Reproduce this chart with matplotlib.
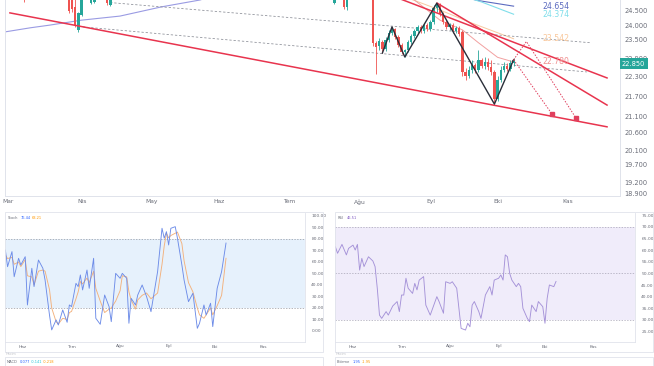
import matplotlib
matplotlib.use('Agg')
import matplotlib.pyplot as plt
import matplotlib.transforms as mtrans
from matplotlib.patches import Rectangle
from matplotlib.ticker import FixedLocator, NullLocator, FuncFormatter

plt.rcParams['font.family'] = ['DejaVu Sans']

# ---------------- data ----------------
month_bars = [0, 23, 45, 66, 88, 110, 132, 153, 175]
month_labels = ['Mar', 'Nis', 'May', 'Haz', 'Tem', 'Ağu', 'Eyl', 'Eki', 'Kas']
lower_month_bars = [66, 88, 110, 132, 153, 175]
lower_month_labels = ['Haz', 'Tem', 'Ağu', 'Eyl', 'Eki', 'Kas']

price_ticks = [24.5, 24.0, 23.5, 22.9, 22.3, 21.7, 21.1, 20.6, 20.1, 19.7, 19.2, 18.9]

candle_bar = [5, 19, 20, 21, 22, 23, 26, 27, 31, 32, 102, 105, 106] + list(range(114, 159))
candle_open = [25.10, 25.10, 25.20, 24.63, 23.84, 24.35, 24.76, 24.80, 25.05, 24.69, 24.78, 25.00, 24.63,
               25.22, 23.40, 23.30, 23.43, 23.20, 23.50, 23.74, 23.87, 23.60, 23.34, 23.11, 23.17,
               23.43, 23.63, 23.80, 23.94, 23.80, 24.01, 23.87, 24.11, 24.59, 24.73, 24.38, 24.11,
               23.94, 24.01, 23.80, 23.90, 23.77, 22.46, 22.33, 22.52, 22.68, 22.52, 22.85, 22.65,
               22.78, 22.62, 22.46, 21.62, 22.21, 22.52, 22.65, 22.56, 22.75]
candle_high = [25.20, 25.30, 25.40, 24.90, 24.45, 25.20, 25.20, 25.10, 25.20, 25.20, 25.10, 25.10, 25.10,
               25.40, 23.47, 23.57, 23.50, 23.60, 23.84, 23.94, 23.90, 23.67, 23.40, 23.20, 23.50,
               23.70, 23.87, 24.01, 24.01, 24.07, 24.07, 24.18, 24.69, 24.76, 24.76, 24.45, 24.18,
               24.07, 24.07, 23.97, 23.97, 23.84, 22.59, 22.65, 22.85, 22.75, 23.17, 22.91, 22.94,
               22.91, 22.85, 22.52, 22.33, 22.65, 22.78, 22.75, 22.85, 22.91]
candle_low = [24.80, 24.42, 24.45, 23.94, 23.77, 24.30, 24.72, 24.78, 24.70, 24.66, 24.74, 24.55, 24.52,
              23.30, 22.40, 23.17, 23.07, 23.14, 23.43, 23.67, 23.53, 23.27, 23.04, 22.94, 23.11,
              23.37, 23.57, 23.74, 23.74, 23.74, 23.80, 23.80, 24.04, 24.45, 24.31, 24.04, 23.87,
              23.84, 23.74, 23.74, 23.63, 22.33, 22.21, 22.27, 22.43, 22.43, 22.46, 22.59, 22.56,
              22.52, 22.37, 21.46, 21.55, 22.15, 22.46, 22.49, 22.49, 22.65]
candle_close = [24.90, 24.50, 24.55, 24.00, 24.42, 25.10, 25.10, 25.05, 24.76, 25.10, 25.00, 24.63, 25.00,
                23.40, 23.27, 23.47, 23.20, 23.50, 23.74, 23.87, 23.60, 23.34, 23.11, 23.17, 23.43,
                23.63, 23.80, 23.94, 23.80, 24.01, 23.87, 24.11, 24.59, 24.73, 24.38, 24.11, 23.94,
                24.01, 23.80, 23.90, 23.70, 22.46, 22.33, 22.52, 22.68, 22.52, 22.85, 22.65, 22.78,
                22.62, 22.46, 21.62, 22.21, 22.52, 22.65, 22.56, 22.75, 22.85]
last_price = 22.85

zigzag_bar = [117, 120, 124, 134, 152, 158]
zigzag_price = [23.07, 23.94, 22.94, 24.76, 21.46, 22.85]

support_bar, support_price = [0.6, 187.2], [24.42, 20.78]
upper_bar, upper_price = [120.9, 187.2], [24.98, 22.27]
middle_bar, middle_price = [134.1, 187.2], [24.76, 21.43]
dash1_bar, dash1_price = [31.9, 181.9], [24.78, 23.41]
dash2_bar, dash2_price = [23.4, 180.9], [23.94, 22.46]

ma_purple_bar = [-1, 7, 13, 23, 35, 48, 60, 65]
ma_purple = [23.77, 23.91, 24.00, 24.17, 24.31, 24.63, 24.87, 25.05]
ma_blue_bar = [141, 147, 158]
ma_blue = [25.01, 24.85, 24.654]
ma_cyan_bar = [144, 148, 158]
ma_cyan = [24.94, 24.80, 24.374]
ma_orange_bar = [124, 135, 144, 158]
ma_orange = [24.98, 24.52, 24.11, 23.542]
ma_pink_bar = [127, 135, 142, 147, 153, 158]
ma_pink = [24.87, 24.17, 23.84, 23.41, 22.93, 22.780]
ma_labels = ['24.654', '24.374', '23.542', '22.780']
ma_label_values = [24.654, 24.374, 23.542, 22.780]

proj1_bar, proj1_price = [158, 162, 177.5], [22.85, 23.45, 21.04]
proj2_bar, proj2_price = [158, 170], [22.85, 21.16]

stoch_bar = [58, 59, 61, 62, 64, 65, 67, 68, 70, 71, 73, 75, 76, 78, 79, 81, 82, 84, 86, 87, 88, 90, 91,
             92, 93, 95, 96, 98, 99, 101, 103, 105, 106, 108, 110, 111, 113, 114, 115, 117, 118, 120,
             122, 124, 127, 129, 130, 131, 132, 133, 135, 136, 138, 139, 141, 143, 145, 146, 148, 149,
             151, 152, 154, 156, 158]
stoch_k = [70.4, 55.9, 69.0, 47.2, 63.2, 57.4, 64.6, 22.6, 54.5, 38.6, 61.7, 54.5, 44.3, 13.9, 0.9, 9.6,
           5.2, 18.3, 7.5, 22.6, 21.2, 41.4, 38.6, 48.7, 35.7, 53.0, 37.1, 63.2, 11.0, 5.8, 31.3, 21.2,
           8.1, 50.1, 45.8, 50.1, 45.8, 6.7, 28.4, 22.6, 31.3, 40.0, 29.9, 16.8, 51.6, 89.3, 80.6, 86.4,
           74.8, 89.3, 90.7, 80.6, 57.4, 44.3, 25.5, 32.8, 2.3, 6.7, 22.6, 13.9, 24.1, 3.8, 37.1, 51.6,
           76.44]
stoch_d = [66, 63, 64, 58, 60, 56, 62, 48, 47, 40, 52, 53, 52, 36, 20, 8, 6, 11, 10, 16, 17, 28, 34, 43,
           41, 46, 42, 52, 37, 26, 16, 19, 20, 26, 35, 48, 47, 34, 27, 19, 27, 31, 33, 28, 33, 58, 74,
           85, 81, 83, 85, 86, 76, 61, 42, 34, 20, 14, 11, 14, 20, 14, 22, 31, 63.21]

rsi_bar = [58, 59, 61, 63, 64, 66, 67, 68, 69, 70, 71, 73, 75, 76, 77, 78, 79, 81, 82, 84, 86, 87, 88,
           89, 90, 91, 93, 94, 95, 96, 98, 99, 101, 104, 105, 107, 108, 110, 111, 113, 115, 117, 118,
           119, 120, 121, 123, 124, 126, 128, 129, 130, 132, 133, 134, 135, 136, 137, 138, 140, 141,
           142, 143, 145, 146, 147, 149, 150, 152, 153, 154, 155, 157, 158]
rsi = [61.4, 58.6, 62.4, 57.9, 60.7, 62.1, 60.0, 62.4, 51.4, 56.4, 52.9, 57.1, 55.3, 52.9, 43.6, 32.1,
       30.7, 33.6, 32.1, 36.0, 37.9, 33.6, 40.7, 40.7, 47.9, 43.6, 41.4, 45.7, 42.9, 47.1, 48.6, 36.4,
       32.1, 40.0, 37.9, 32.9, 46.4, 45.7, 46.4, 43.6, 26.4, 25.7, 28.6, 27.1, 36.4, 37.9, 33.6, 30.7,
       40.7, 44.3, 40.7, 47.1, 47.9, 49.3, 47.1, 57.9, 57.1, 50.0, 47.1, 44.3, 45.7, 44.3, 35.0, 30.7,
       29.3, 36.4, 33.6, 37.9, 35.7, 28.6, 39.3, 45.0, 44.3, 46.51]

# ---------------- styling ----------------
GREEN = '#26a69a'
RED = '#ef5350'
TREND = '#e8344e'
GRAYTXT = '#6a6d78'
BORDER = '#e0e3eb'

W, H = 654, 366
fig = plt.figure(figsize=(W / 100, H / 100), dpi=100)


def fr(x0, y0, x1, y1):
    return [x0 / W, 1 - y1 / H, (x1 - x0) / W, (y1 - y0) / H]


# ---------------- main price chart ----------------
ax = fig.add_axes(fr(5, 0, 620, 196))
ax.set_yscale('log')
ax.set_xlim(-0.94, 191.25)
ax.set_ylim(18.84, 24.87)

for b, o, h, l, c in zip(candle_bar, candle_open, candle_high, candle_low, candle_close):
    col = GREEN if c >= o else RED
    ax.vlines(b, l, h, color=col, lw=0.6, zorder=3)
    ax.bar(b, max(abs(c - o), 0.01), bottom=min(o, c), width=0.72, color=col, lw=0, zorder=3)

ax.plot(ma_purple_bar, ma_purple, color='#9a9be3', lw=0.8, zorder=2)
ax.plot(ma_blue_bar, ma_blue, color='#5c6bc0', lw=0.8, zorder=2)
ax.plot(ma_cyan_bar, ma_cyan, color='#80deea', lw=0.8, zorder=2)
ax.plot(ma_orange_bar, ma_orange, color='#f7c9a0', lw=0.7, zorder=2)
ax.plot(ma_pink_bar, ma_pink, color='#f2a0a0', lw=0.7, zorder=2)

ax.plot(dash1_bar, dash1_price, color='#8a8d96', lw=0.55, ls=(0, (3, 2.5)), zorder=2)
ax.plot(dash2_bar, dash2_price, color='#8a8d96', lw=0.55, ls=(0, (3, 2.5)), zorder=2)

ax.plot(support_bar, support_price, color=TREND, lw=1.1, zorder=4)
ax.plot(upper_bar, upper_price, color=TREND, lw=1.1, zorder=4)
ax.plot(middle_bar, middle_price, color=TREND, lw=1.1, zorder=4)

ax.plot(zigzag_bar, zigzag_price, color='#2a2e39', lw=1.0, zorder=5)

ax.plot(proj1_bar, proj1_price, color='#e0405e', lw=0.7, ls=(0, (1.5, 1.5)), zorder=5)
ax.plot(proj2_bar, proj2_price, color='#e0405e', lw=0.7, ls=(0, (1.5, 1.5)), zorder=5)
ax.plot([proj1_bar[-1], proj2_bar[-1]], [proj1_price[-1], proj2_price[-1]], ls='none',
        marker='s', ms=2.2, color='#e0405e', zorder=6)

label_cols = ['#5c6bc0', '#80deea', '#f9c79a', '#f08f8f']
for txt, v, col in zip(ma_labels, ma_label_values, label_cols):
    ax.text(167, v, txt, color=col, fontsize=5.6, va='center', ha='left', zorder=6)

ax.yaxis.tick_right()
ax.yaxis.set_major_locator(FixedLocator(price_ticks))
ax.yaxis.set_major_formatter(FuncFormatter(lambda v, p: f'{v:.3f}'))
ax.yaxis.set_minor_locator(NullLocator())
ax.set_xticks(month_bars)
ax.set_xticklabels(month_labels)
ax.tick_params(axis='y', length=0, labelsize=4.8, colors=GRAYTXT, pad=3)
ax.tick_params(axis='x', length=0, labelsize=4.3, colors=GRAYTXT, pad=2.5)
ax.spines['top'].set_visible(False)
for s in ['left', 'right', 'bottom']:
    ax.spines[s].set_color(BORDER)
    ax.spines[s].set_linewidth(0.7)

trans = mtrans.blended_transform_factory(ax.transAxes, ax.transData) + \
    mtrans.ScaledTranslation(0, -4 / 100, fig.dpi_scale_trans)
ax.text(1.003, last_price, f'{last_price:.3f}', transform=trans, fontsize=4.8, color='white',
        va='center', ha='left', zorder=10, clip_on=False,
        bbox=dict(boxstyle='square,pad=0.35', fc=GREEN, ec='none'))

# ---------------- lower panels ----------------
def lower_panel(rect):
    a = fig.add_axes(fr(*rect))
    a.set_xlim(57.84, 193.8)
    a.yaxis.tick_right()
    a.set_xticks(lower_month_bars)
    a.set_xticklabels(lower_month_labels)
    a.tick_params(length=0, labelsize=3.2, colors=GRAYTXT)
    a.tick_params(axis='y', pad=4.5)
    a.tick_params(axis='x', pad=1.8)
    for s in a.spines.values():
        s.set_color(BORDER)
        s.set_linewidth(0.6)
    a.spines['top'].set_visible(False)
    a.spines['left'].set_visible(False)
    return a


ax2 = lower_panel((5, 213, 305, 342))
ax2.set_ylim(-9.6, 102.6)
ax2.set_yticks(list(range(0, 101, 10)))
ax2.yaxis.set_major_formatter(FuncFormatter(lambda v, p: f'{v:.2f}'))
ax2.axhspan(20, 80, color='#e6f1fc', lw=0, zorder=0)
for lv in (20, 80):
    ax2.axhline(lv, color='#9598a1', lw=0.5, ls=(0, (2, 2)), zorder=1)
ax2.plot(stoch_bar, stoch_d, color='#f3b17c', lw=0.65, zorder=2)
ax2.plot(stoch_bar, stoch_k, color='#6d8ce8', lw=0.65, zorder=3)

ax3 = lower_panel((335, 213, 635, 342))
ax3.set_ylim(20.57, 75.86)
ax3.set_yticks(list(range(25, 76, 5)))
ax3.yaxis.set_major_formatter(FuncFormatter(lambda v, p: f'{v:.2f}'))
ax3.axhspan(30, 70, color='#f0ecfa', lw=0, zorder=0)
for lv in (30, 50, 70):
    ax3.axhline(lv, color='#a7a4b5', lw=0.5, ls=(0, (2, 2)), zorder=1)
ax3.plot(rsi_bar, rsi, color='#a592d8', lw=0.65, zorder=2)

# panel frames
for x0, x1 in ((5, 323), (335, 653)):
    fig.patches.append(Rectangle((x0 / W, 1 - 352 / H), (x1 - x0) / W, 140 / H,
                                 transform=fig.transFigure, fill=False, ec=BORDER, lw=0.6))
    fig.patches.append(Rectangle((x0 / W, 1 - 372 / H), (x1 - x0) / W, 15 / H,
                                 transform=fig.transFigure, fill=False, ec=BORDER, lw=0.6))


def ftext(x, y, s, col, size=2.6):
    fig.text(x / W, 1 - y / H, s, color=col, fontsize=size, va='center', ha='left')


ftext(8, 218, 'Stoch', GRAYTXT)
ftext(21, 218, f'{stoch_k[-1]:.2f}', '#2962ff')
ftext(32, 218, f'{stoch_d[-1]:.2f}', '#ff9800')
ftext(338, 218, 'RSI', GRAYTXT)
ftext(347, 218, f'{rsi[-1]:.2f}', '#7e57c2')
ftext(6, 354, 'Hacim', '#c5c7cc', 2.4)
ftext(336, 354, 'Hacim', '#c5c7cc', 2.4)
ftext(7, 362, 'MACD', GRAYTXT)
ftext(20, 362, '0.077', '#2962ff')
ftext(31, 362, '-0.141', '#26c6da')
ftext(43, 362, '-0.218', '#ff9800')
ftext(337, 362, 'Bitirme', GRAYTXT)
ftext(353, 362, '1.95', '#2962ff')
ftext(362, 362, '-1.95', '#ff9800')

fig.savefig('out.png', dpi=100, facecolor='white')
